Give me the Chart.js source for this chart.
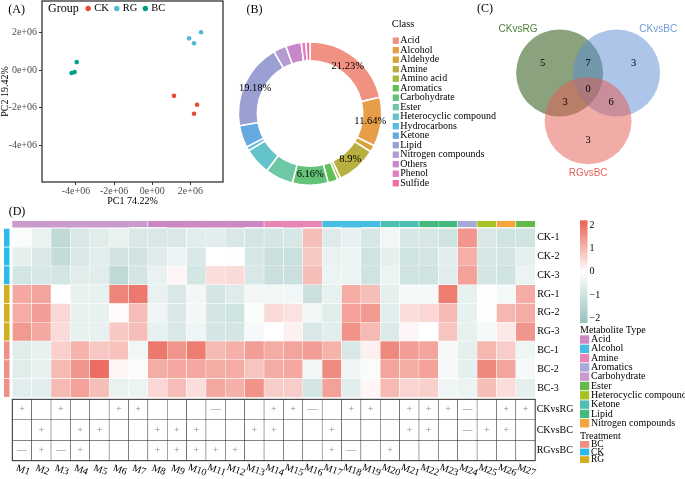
<!DOCTYPE html>
<html>
<head>
<meta charset="utf-8">
<title>Metabolite figure</title>
<script src="https://cdn.jsdelivr.net/npm/chart.js@4.4.1/dist/chart.umd.min.js"></script>
<style>
  html, body { margin: 0; padding: 0; background: #ffffff; }
  #fig { position: relative; width: 685px; height: 479px; overflow: hidden; background: #fff; }
  #fig canvas { position: absolute; }
</style>
</head>
<body>
<div id="fig">
  <canvas id="chartD" width="685" height="284" style="left:0px;top:195px;"></canvas>
  <canvas id="chartA" width="228" height="210" style="left:0px;top:0px;"></canvas>
  <canvas id="chartB" width="300" height="200" style="left:230px;top:0px;"></canvas>
  <canvas id="chartC" width="215" height="200" style="left:470px;top:0px;"></canvas>
</div>
<script>
// ================= DATA =================
// (A) PCA scores
const groupNames = ['CK', 'RG', 'BC'];
const pc1CK = [1.14e6, 2.35e6, 2.19e6];
const pc2CK = [-1.37e6, -1.84e6, -2.32e6];
const pc1RG = [1.93e6, 2.19e6, 2.56e6];
const pc2RG = [1.68e6, 1.42e6, 2.00e6];
const pc1BC = [-4.23e6, -4.07e6, -3.96e6];
const pc2BC = [-0.16e6, -0.11e6, 0.42e6];
const pcaTicks = [-4e6, -2e6, 0, 2e6];

// (B) class composition
const classNames = ['Acid', 'Alcohol', 'Aldehyde', 'Amine', 'Amino acid', 'Aromatics', 'Carbohydrate', 'Ester',
  'Heterocyclic compound', 'Hydrocarbons', 'Ketone', 'Lipid', 'Nitrogen compounds', 'Others', 'Phenol', 'Sulfide'];
const classShare = [21.23, 11.0, 1.5, 9.0, 0.7, 2.2, 8.0, 6.3, 6.0, 0.9, 5.0, 19.18, 2.9, 3.5, 1.05, 0.9];
const classPctText = ['21.23%', '11.64%', '', '8.9%', '', '', '6.16%', '', '', '', '', '19.18%', '', '', '', ''];

// (C) Venn
const vennNames = ['CKvsRG', 'CKvsBC', 'RGvsBC'];
const vennCX = [0, 1, 0.5];
const vennCY = [0, 0, -0.837];
const vennRadius = 0.763;
const vennUnique = [5, 3, 3];
const vennPairs = [[0, 1, 7], [0, 2, 3], [1, 2, 6]];
const vennTriple = 0;

// (D) heatmap
const metaboliteIds = ['M1','M2','M3','M4','M5','M6','M7','M8','M9','M10','M11','M12','M13','M14','M15','M16','M17','M18','M19','M20','M21','M22','M23','M24','M25','M26','M27'];
const metaboliteType = ['Carbohydrate','Carbohydrate','Carbohydrate','Carbohydrate','Carbohydrate','Carbohydrate','Carbohydrate',
  'Acid','Acid','Acid','Acid','Acid','Acid','Amine','Amine','Amine','Alcohol','Alcohol','Alcohol','Ketone','Ketone',
  'Lipid','Lipid','Aromatics','Heterocyclic compound','Nitrogen compounds','Ester'];
const sampleNames = ['CK-1','CK-2','CK-3','RG-1','RG-2','RG-3','BC-1','BC-2','BC-3'];
const sampleTreatment = ['CK','CK','CK','RG','RG','RG','BC','BC','BC'];
const zCK1 = [-0.10,-0.45,-1.30,-0.80,-0.65,-0.45,-0.80,-0.80,-0.80,-0.65,-0.60,-0.80,-0.90,-0.90,-0.85,0.90,-0.70,-0.50,-0.85,-0.30,-0.85,-0.85,-1.00,1.45,-0.80,-1.00,-1.00];
const zCK2 = [-0.55,-0.80,-1.25,-0.80,-0.60,-0.95,-0.95,-0.70,-0.40,-0.80,0.00,-0.05,-0.85,-1.10,-1.10,0.75,-0.45,-0.40,-1.00,-0.55,-1.00,-0.90,-0.60,1.10,-0.85,-0.90,-0.55];
const zCK3 = [-0.90,-0.85,-0.90,-0.65,-0.65,-1.35,-0.90,-0.45,0.12,-0.90,0.45,0.50,-0.80,-1.10,-1.10,0.90,-0.40,-0.40,-1.00,-0.40,-1.00,-1.00,-0.60,1.30,-0.90,-1.00,-0.40];
const zRG1 = [1.20,1.25,0.00,-0.50,-0.50,1.70,1.85,-0.45,-0.80,-0.25,-0.90,-0.70,-0.25,-0.25,-0.30,-1.10,-0.50,1.15,0.90,-0.55,-0.20,-0.20,1.80,-0.50,0.03,-0.20,1.15];
const zRG2 = [1.15,1.35,0.55,-0.50,-0.50,0.05,0.90,-0.35,-0.80,-0.25,-0.90,-1.00,-0.10,0.50,0.40,-0.30,-0.65,1.30,1.40,-0.60,0.45,0.55,0.95,-0.50,-0.05,1.00,1.15];
const zRG3 = [1.40,1.20,0.50,-0.50,-0.50,0.75,0.90,-0.50,-0.80,-0.35,-0.90,-0.90,-0.20,0.00,0.20,-0.80,-0.60,1.50,0.95,-0.75,0.12,0.00,0.80,-0.50,-0.20,0.30,1.45];
const zBC1 = [-0.65,-0.50,0.65,1.05,0.75,0.85,-0.30,1.85,1.45,1.80,0.95,1.10,1.35,1.15,1.25,1.35,1.05,-0.80,0.20,1.65,1.35,1.25,-0.20,-0.55,1.00,0.70,-0.35];
const zBC2 = [-0.65,-0.50,0.95,1.45,2.00,0.15,-0.10,1.15,1.20,1.20,1.15,1.15,0.80,1.15,1.20,-0.30,1.60,-0.35,-0.10,1.25,1.15,1.30,-0.20,-0.55,1.65,1.25,-0.20];
const zBC3 = [-0.60,-0.60,0.95,1.30,0.90,-0.45,-0.40,0.55,0.90,0.45,1.20,1.10,1.50,0.70,0.70,-0.90,1.30,-0.60,0.12,0.95,0.60,0.65,-0.35,-0.40,0.90,0.45,-0.55];
const colorbarTicks = [2, 1, 0, -1, -2];
const comparisonNames = ['CKvsRG', 'CKvsBC', 'RGvsBC'];
const markCKvsRG = ['+','','+','','','+','+','','','','—','','','+','+','—','','+','+','','+','+','+','—','','+','+'];
const markCKvsBC = ['','+','','+','+','','','+','+','+','','','+','+','','','+','','','','+','+','','—','+','+',''];
const markRGvsBC = ['—','+','—','+','','','','+','+','+','+','+','','','','','+','—','','+','','','','','','',''];
const typeLegend = ['Acid','Alcohol','Amine','Aromatics','Carbohydrate','Ester','Heterocyclic compound','Ketone','Lipid','Nitrogen compounds'];
const treatmentLegend = ['BC','CK','RG'];

// ================= STYLES =================
const SERIF = "'Liberation Serif', 'Times New Roman', serif";
const SANS = "'Liberation Sans', Arial, sans-serif";
Chart.defaults.font.family = SERIF;
Chart.defaults.color = '#000';
const groupColors = ['#E64B35', '#4DBBD5', '#00A087'];
const classColors = ['#F09182','#E89E48','#D9A23A','#B9AF41','#A2BC3E','#62BF55','#64C378','#6EC8A5','#64C3C8',
  '#5CB9E2','#64AAE1','#9BA0D2','#B49BD2','#C887C8','#E17DC3','#F06EA0'];
const vennFill = ['rgba(60,100,40,0.6)', 'rgba(90,140,210,0.5)', 'rgba(230,90,80,0.5)'];
const vennText = ['#4C7F3A', '#6F9CD6', '#E2625D'];
const typeColors = {'Acid':'#CC88C2','Alcohol':'#46BEE1','Amine':'#E884B6','Aromatics':'#A6A8D8','Carbohydrate':'#C99BCB',
  'Ester':'#62B94A','Heterocyclic compound':'#A6C226','Ketone':'#4EBDB2','Lipid':'#44B97E','Nitrogen compounds':'#F5A33D'};
const treatColors = {'BC':'#F08F86','CK':'#2CBAED','RG':'#D4AE1C'};
const HEAT_LOW = [150, 193, 188], HEAT_HIGH = [234, 96, 82], HEAT_LIMIT = 2.2;
function heatColor(v) {
  const t = Math.max(-1, Math.min(1, v / HEAT_LIMIT));
  const e = t < 0 ? HEAT_LOW : HEAT_HIGH, a = Math.abs(t);
  const c = k => Math.round(255 + (e[k] - 255) * a);
  return `rgb(${c(0)},${c(1)},${c(2)})`;
}
function txt(ctx, s, x, y, o = {}) {
  ctx.save();
  ctx.font = `${o.size || 10}px ${o.family || SERIF}`;
  ctx.fillStyle = o.color || '#000';
  ctx.textAlign = o.align || 'left';
  ctx.textBaseline = o.baseline || 'middle';
  ctx.translate(x, y);
  if (o.rot) ctx.rotate(o.rot);
  ctx.fillText(s, 0, 0);
  ctx.restore();
}
const baseOpts = { responsive: false, animation: false, events: [], devicePixelRatio: 1 };

// ================= (A) PCA scatter =================
const pc1 = [pc1CK, pc1RG, pc1BC], pc2 = [pc2CK, pc2RG, pc2BC];
const pcaFmt = v => v === 0 ? '0e+00' : (v < 0 ? '-' : '') + Math.abs(v / 1e6) + 'e+06';
const pcaAxis = (title, isX) => ({
  type: 'linear',
  min: isX ? -5.78e6 : -5.94e6,
  max: isX ? 3.71e6 : 3.66e6,
  afterBuildTicks(s) { s.ticks = pcaTicks.map(v => ({ value: v })); },
  afterFit(s) {
    if (isX) s.height = 28; else s.width = 42;
    s.paddingTop = 0; s.paddingBottom = 0; s.paddingLeft = 0; s.paddingRight = 0;
  },
  ticks: { callback: pcaFmt, color: '#4d4d4d', font: { size: 10 }, padding: isX ? 0 : 2, maxRotation: 0, autoSkip: false },
  grid: { display: true, drawOnChartArea: false, drawTicks: true, tickLength: 3, color: '#333', lineWidth: 1 },
  border: { display: false },
  title: { display: true, text: title, color: '#000', font: { size: 10, lineHeight: isX ? 1.2 : 1 },
           padding: isX ? { top: 0, bottom: 3 } : { top: 0, bottom: 0 } }
});
const pcaDecor = {
  id: 'pcaDecor',
  afterDraw(chart) {
    const { ctx, chartArea: ca } = chart;
    ctx.save(); ctx.strokeStyle = '#333'; ctx.lineWidth = 1.3;
    ctx.strokeRect(ca.left, ca.top, ca.right - ca.left, ca.bottom - ca.top);
    ctx.restore();
    txt(ctx, '(A)', 16.7, 10, { size: 12, align: 'center' });
    let x = ca.left + 6; const y = ca.top + 7.5;
    txt(ctx, 'Group', x, y, { size: 12 });
    ctx.save(); ctx.font = `12px ${SERIF}`; x += ctx.measureText('Group').width + 9.5; ctx.restore();
    groupNames.forEach((g, i) => {
      ctx.save(); ctx.fillStyle = groupColors[i]; ctx.beginPath(); ctx.arc(x, y, 2.7, 0, Math.PI * 2); ctx.fill(); ctx.restore();
      txt(ctx, g, x + 6, y, { size: 10.5 });
      ctx.save(); ctx.font = `10.5px ${SERIF}`; x += 6 + ctx.measureText(g).width + 8; ctx.restore();
    });
  }
};
new Chart(document.getElementById('chartA'), {
  type: 'scatter',
  data: { datasets: groupNames.map((g, gi) => ({
    label: g, data: pc1[gi].map((v, i) => ({ x: v, y: pc2[gi][i] })),
    backgroundColor: groupColors[gi], borderWidth: 0, pointRadius: 2.3
  })) },
  options: Object.assign({}, baseOpts, {
    layout: { autoPadding: false, padding: { left: 0, top: 1, right: 5, bottom: 0 } },
    plugins: { legend: { display: false }, tooltip: { enabled: false } },
    scales: { x: pcaAxis('PC1 74.22%', true), y: pcaAxis('PC2 19.42%', false) }
  }),
  plugins: [pcaDecor]
});

// ================= (B) Donut =================
const donutDecor = {
  id: 'donutDecor',
  afterDatasetsDraw(chart) {
    const { ctx } = chart;
    const meta = chart.getDatasetMeta(0);
    meta.data.forEach((arc, i) => {
      if (!classPctText[i]) return;
      const p = arc.getProps(['x', 'y', 'startAngle', 'endAngle', 'innerRadius', 'outerRadius']);
      const a = (p.startAngle + p.endAngle) / 2, r = (p.innerRadius + p.outerRadius) / 2 - 1.5;
      txt(ctx, classPctText[i], p.x + Math.cos(a) * r, p.y + Math.sin(a) * r, { size: 10.5, align: 'center' });
    });
  },
  afterDraw(chart) {
    const { ctx } = chart;
    txt(ctx, '(B)', 24.5, 9.5, { size: 12, align: 'center' });
    txt(ctx, 'Class', 161.7, 24, { size: 10.5 });
    classNames.forEach((n, i) => {
      const cy = 40.7 + 9.5 * i;
      ctx.save(); ctx.fillStyle = classColors[i]; ctx.fillRect(162.7, cy - 3.2, 6.2, 6.4); ctx.restore();
      txt(ctx, n, 170.2, cy, { size: 10 });
    });
  }
};
new Chart(document.getElementById('chartB'), {
  type: 'doughnut',
  data: { labels: classNames, datasets: [{ data: classShare, backgroundColor: classColors, borderColor: '#fff', borderWidth: 1.6 }] },
  options: Object.assign({}, baseOpts, {
    cutout: '73.5%', rotation: 0,
    layout: { autoPadding: false, padding: { left: 7.6, top: 41.1, right: 147.5, bottom: 14.0 } },
    plugins: { legend: { display: false }, tooltip: { enabled: false } }
  }),
  plugins: [donutDecor]
});

// ================= (C) Venn =================
const C_PAD = { left: 32.6, right: 11.4, top: 16, bottom: 13 };
const C_X = [-1, 2], C_Y = [-2, 1];
const vennPxPerUnit = (215 - C_PAD.left - C_PAD.right) / (C_X[1] - C_X[0]);
const vennDecor = {
  id: 'vennDecor',
  afterDatasetsDraw(chart) {
    const { ctx, scales: { x: xs, y: ys } } = chart;
    const unit = xs.getPixelForValue(1) - xs.getPixelForValue(0);
    const rPx = vennRadius * unit;
    const P = vennCX.map((cx, i) => ({ x: xs.getPixelForValue(cx), y: ys.getPixelForValue(vennCY[i]) }));
    const G = { x: (P[0].x + P[1].x + P[2].x) / 3, y: (P[0].y + P[1].y + P[2].y) / 3 };
    const num = { size: 10.5, align: 'center' };
    vennUnique.forEach((n, i) => txt(ctx, String(n), P[i].x + 0.6 * (P[i].x - G.x), P[i].y + 0.6 * (P[i].y - G.y), num));
    vennPairs.forEach(([a, b, n]) => {
      const M = { x: (P[a].x + P[b].x) / 2, y: (P[a].y + P[b].y) / 2 };
      txt(ctx, String(n), M.x + 0.62 * (M.x - G.x), M.y + 0.62 * (M.y - G.y), num);
    });
    txt(ctx, String(vennTriple), G.x, G.y, num);
    vennNames.forEach((n, i) => {
      let lx, ly;
      if (P[i].y < G.y) { lx = P[i].x + Math.sign(P[i].x - G.x) * 0.73 * unit; ly = P[i].y - rPx; }
      else { lx = P[i].x; ly = P[i].y + rPx + 0.15 * unit; }
      txt(ctx, n, lx, ly, { size: 10, family: SANS, color: vennText[i], align: 'center' });
    });
    txt(ctx, '(C)', 15, 9, { size: 12, align: 'center' });
  }
};
// datasets listed top-most first (Chart.js paints the last dataset first)
const vennOrder = [2, 1, 0];
new Chart(document.getElementById('chartC'), {
  type: 'bubble',
  data: { datasets: vennOrder.map(i => ({
    label: vennNames[i],
    data: [{ x: vennCX[i], y: vennCY[i], r: vennRadius * vennPxPerUnit }],
    backgroundColor: vennFill[i], borderColor: vennFill[i], borderWidth: 0, clip: false
  })) },
  options: Object.assign({}, baseOpts, {
    layout: { autoPadding: false, padding: C_PAD },
    plugins: { legend: { display: false }, tooltip: { enabled: false } },
    scales: { x: { type: 'linear', display: false, min: C_X[0], max: C_X[1] },
              y: { type: 'linear', display: false, min: C_Y[0], max: C_Y[1] } }
  }),
  plugins: [vennDecor]
});

// ================= (D) Heatmap + table =================
const heatRows = [zCK1, zCK2, zCK3, zRG1, zRG2, zRG3, zBC1, zBC2, zBC3];
const tableMarks = [markCKvsRG, markCKvsBC, markRGvsBC];
const ANN_TOP = -0.40, ANN_BOTTOM = -0.06;
const TABLE_TOP = 9.105, TABLE_ROW = 1.09;
const Y_MIN = -0.405, Y_MAX = TABLE_TOP + 3 * TABLE_ROW;
const barCommon = { grouped: false, barPercentage: 1, categoryPercentage: 1, borderSkipped: false };
const heatDatasets = heatRows.map((row, r) => Object.assign({
  label: sampleNames[r], data: row.map(() => [r, r + 1]),
  backgroundColor: row.map(heatColor), borderColor: '#ffffff', borderWidth: 0.5
}, barCommon));
const annDataset = Object.assign({
  label: 'Metabolite Type', data: metaboliteType.map(() => [ANN_TOP, ANN_BOTTOM]),
  backgroundColor: metaboliteType.map(t => typeColors[t]), borderColor: '#ffffff',
  borderWidth: ctx => {
    const i = ctx.dataIndex;
    return { top: 0, bottom: 0,
      left: (i > 0 && metaboliteType[i - 1] !== metaboliteType[i]) ? 0.6 : 0,
      right: (i < metaboliteType.length - 1 && metaboliteType[i + 1] !== metaboliteType[i]) ? 0.6 : 0 };
  }
}, barCommon);
const tableDatasets = comparisonNames.map((n, t) => Object.assign({
  label: n, data: metaboliteIds.map(() => [TABLE_TOP + TABLE_ROW * t, TABLE_TOP + TABLE_ROW * (t + 1)]),
  backgroundColor: '#ffffff', borderColor: '#3a3a3a', borderWidth: 0.55
}, barCommon));

const heatDecor = {
  id: 'heatDecor',
  afterDatasetsDraw(chart) {
    const { ctx, chartArea: ca, scales: { y: ys } } = chart;
    const t0 = ys.getPixelForValue(TABLE_TOP), t1 = ys.getPixelForValue(Y_MAX);
    ctx.save(); ctx.strokeStyle = '#3a3a3a'; ctx.lineWidth = 1;
    ctx.strokeRect(ca.left, t0, ca.right - ca.left, t1 - t0);
    ctx.restore();
  },
  afterDraw(chart) {
    const { ctx, chartArea: ca, scales: { x: xs, y: ys } } = chart;
    txt(ctx, '(D)', 17, 17, { size: 12, align: 'center' });
    sampleNames.forEach((s, r) => {
      const y0 = ys.getPixelForValue(r), y1 = ys.getPixelForValue(r + 1);
      ctx.save(); ctx.fillStyle = treatColors[sampleTreatment[r]];
      ctx.fillRect(4, y0 + 0.4, 5.5, y1 - y0 - 0.8); ctx.restore();
      txt(ctx, s, ca.right + 2, (y0 + y1) / 2, { size: 10 });
    });
    tableMarks.forEach((marks, t) => {
      const yc = ys.getPixelForValue(TABLE_TOP + TABLE_ROW * (t + 0.5));
      marks.forEach((m, i) => { if (m) txt(ctx, m, xs.getPixelForValue(i), yc, { size: 10, color: '#8a8a8a', align: 'center' }); });
      txt(ctx, comparisonNames[t], ca.right + 1.5, yc, { size: 10 });
    });
    metaboliteIds.forEach((m, i) => {
      txt(ctx, m, xs.getPixelForValue(i) + 1, ca.bottom + 9.5, { size: 10, align: 'center', rot: 20 * Math.PI / 180 });
    });
    const cbX = 580, cbW = 7.5;
    const zeroY = ys.getPixelForValue(0) + 271.7 - 228.3;
    const unitY = 23.33;
    const v2y = v => zeroY - unitY * v;
    const g = ctx.createLinearGradient(0, v2y(HEAT_LIMIT), 0, v2y(-HEAT_LIMIT));
    for (let k = 0; k <= 20; k++) { const v = HEAT_LIMIT - k * (2 * HEAT_LIMIT / 20); g.addColorStop(k / 20, heatColor(v)); }
    ctx.save(); ctx.fillStyle = g; ctx.fillRect(cbX, v2y(HEAT_LIMIT), cbW, v2y(-HEAT_LIMIT) - v2y(HEAT_LIMIT)); ctx.restore();
    colorbarTicks.forEach(v => txt(ctx, v < 0 ? '\u2212' + Math.abs(v) : String(v), cbX + cbW + 2, v2y(v), { size: 10 }));
    const base = ys.getPixelForValue(0) - 228.3;
    txt(ctx, 'Metabolite Type', cbX, base + 330, { size: 10 });
    typeLegend.forEach((t, i) => {
      const y0 = base + 335.3 + 9.3 * i;
      ctx.save(); ctx.fillStyle = typeColors[t]; ctx.fillRect(cbX, y0, 9.2, 8.4); ctx.restore();
      txt(ctx, t, cbX + 11, y0 + 4.2, { size: 10 });
    });
    txt(ctx, 'Treatment', cbX, base + 436, { size: 10 });
    treatmentLegend.forEach((t, i) => {
      const y0 = base + 441 + 7.6 * i;
      ctx.save(); ctx.fillStyle = treatColors[t]; ctx.fillRect(cbX, y0, 9.2, 6.8); ctx.restore();
      txt(ctx, t, cbX + 11, y0 + 3.4, { size: 9.5 });
    });
  }
};
new Chart(document.getElementById('chartD'), {
  type: 'bar',
  data: { labels: metaboliteIds, datasets: [...heatDatasets, annDataset, ...tableDatasets] },
  options: Object.assign({}, baseOpts, {
    layout: { autoPadding: false, padding: { left: 12.3, right: 149.8, top: 25.7, bottom: 18.3 } },
    plugins: { legend: { display: false }, tooltip: { enabled: false } },
    scales: {
      x: { type: 'category', display: false, offset: true },
      y: { type: 'linear', display: false, reverse: true, min: Y_MIN, max: Y_MAX }
    }
  }),
  plugins: [heatDecor]
});
</script>
</body>
</html>
